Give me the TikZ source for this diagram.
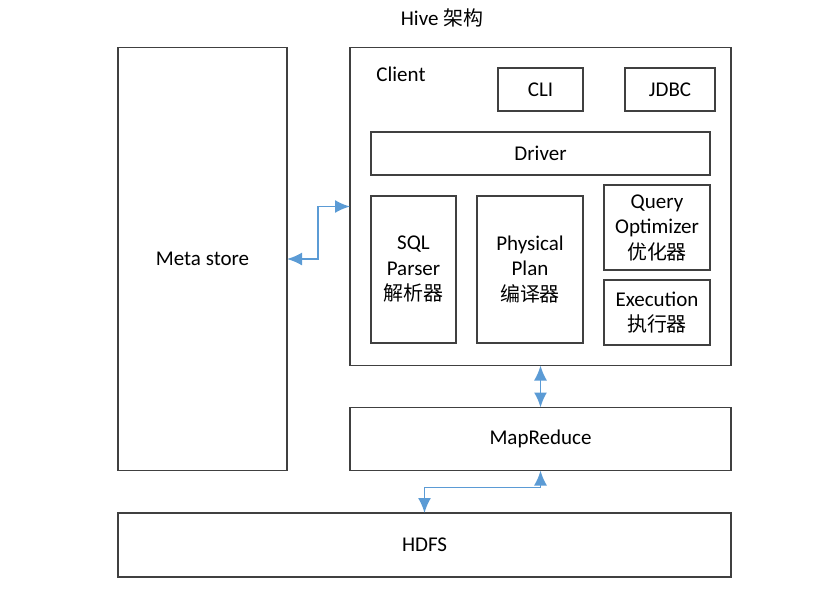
\documentclass[tikz,border=0pt]{standalone}
\usepackage{fontspec}
\setmainfont{Carlito}
\newfontfamily\cjk[Scale=0.95]{Noto Sans CJK SC}
\usetikzlibrary{arrows.meta}
\definecolor{linkblue}{RGB}{91,155,213}
\tikzset{
  box/.style={draw=black!75, line width=1.2pt, inner sep=0pt, outer sep=0pt, align=center},
  link/.style={draw=linkblue, line width=1.8pt, {Latex[length=15pt,width=13pt]}-{Latex[length=15pt,width=13pt]}}
}
\begin{document}
\begin{tikzpicture}[x=1pt, y=-1pt, font=\fontsize{21}{25.5}\selectfont]
      \useasboundingbox (0,0) rectangle (832,597);
      \node at (442,18) (title){Hive {\cjk 架构}};
      \node[box, minimum width=169, minimum height=423] at (202.5,259) (meta){Meta store};
      \node[box, minimum width=381, minimum height=318] at (540.5,206.5) (client){};
      \node at (401,74) (clientlabel){Client};
      \node[box, minimum width=85, minimum height=43] at (540.5,89.5) (cli){CLI};
      \node[box, minimum width=90, minimum height=43] at (670,89.5) (jdbc){JDBC};
      \node[box, minimum width=339, minimum height=43] at (540.5,153.5) (driver){Driver};
      \node[box, minimum width=85, minimum height=147] at (413.5,269.5) (parser){SQL\\Parser\\{\cjk 解析器}};
      \node[box, minimum width=106, minimum height=147] at (530,269.5) (plan){Physical\\Plan\\{\cjk 编译器}};
      \node[box, minimum width=106, minimum height=85] at (657,227.5) (optimizer){Query\\Optimizer\\{\cjk 优化器}};
      \node[box, minimum width=106, minimum height=65] at (657,312.5) (execution){Execution\\{\cjk 执行器}};
      \node[box, minimum width=381, minimum height=63] at (540.5,439) (mapreduce){MapReduce};
      \node[box, minimum width=613, minimum height=64] at (424.5,545) (hdfs){HDFS};
      \begin{scope}[link]
        \draw (meta.east) -- (318,259) |- (client.west);
        \draw (client.south) -- (mapreduce.north);
        \draw (mapreduce.south) -- ++(0,17) -| (hdfs.north);
      \end{scope}
    \end{tikzpicture}
\end{document}
